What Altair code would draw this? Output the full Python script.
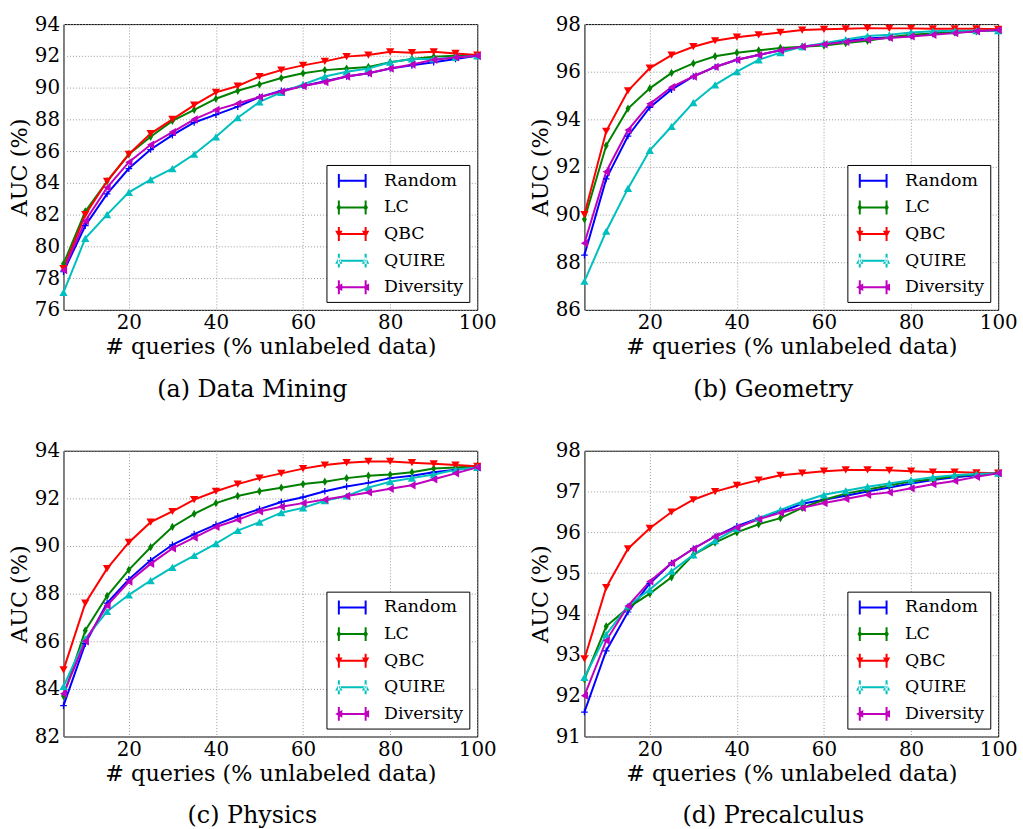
import altair as alt
import pandas as pd

methods = ["Random", "LC", "QBC", "QUIRE", "Diversity"]
queries = [5, 10, 15, 20, 25, 30, 35, 40, 45, 50, 55, 60, 65, 70, 75, 80, 85, 90, 95, 100]

data_mining = {
    "Random":    [78.4, 81.3, 83.3, 84.9, 86.1, 87.0, 87.8, 88.3, 88.8, 89.4, 89.8, 90.1, 90.4, 90.7, 90.9, 91.2, 91.4, 91.6, 91.8, 92.0],
    "LC":        [78.9, 82.2, 84.1, 85.8, 86.9, 87.9, 88.6, 89.3, 89.8, 90.2, 90.6, 90.9, 91.1, 91.2, 91.3, 91.6, 91.8, 91.95, 92.0, 92.0],
    "QBC":       [78.6, 82.0, 84.1, 85.8, 87.1, 88.0, 88.9, 89.7, 90.1, 90.7, 91.1, 91.4, 91.65, 91.95, 92.05, 92.25, 92.2, 92.25, 92.15, 92.05],
    "QUIRE":     [77.1, 80.5, 82.0, 83.4, 84.2, 84.9, 85.8, 86.9, 88.1, 89.1, 89.7, 90.2, 90.7, 91.0, 91.2, 91.6, 91.8, 91.8, 91.9, 92.0],
    "Diversity": [78.5, 81.6, 83.7, 85.3, 86.4, 87.2, 88.0, 88.6, 89.0, 89.4, 89.75, 90.1, 90.35, 90.7, 90.9, 91.2, 91.45, 91.75, 91.9, 92.0],
}
geometry = {
    "Random":    [88.3, 91.5, 93.3, 94.5, 95.25, 95.8, 96.2, 96.5, 96.7, 96.9, 97.05, 97.15, 97.3, 97.4, 97.45, 97.5, 97.6, 97.65, 97.7, 97.75],
    "LC":        [89.8, 92.9, 94.45, 95.3, 95.95, 96.35, 96.65, 96.8, 96.9, 97.0, 97.05, 97.1, 97.2, 97.3, 97.45, 97.55, 97.6, 97.65, 97.7, 97.75],
    "QBC":       [90.0, 93.5, 95.2, 96.15, 96.7, 97.05, 97.3, 97.45, 97.55, 97.65, 97.75, 97.78, 97.8, 97.83, 97.82, 97.82, 97.8, 97.8, 97.8, 97.78],
    "QUIRE":     [87.2, 89.3, 91.1, 92.7, 93.7, 94.7, 95.45, 96.0, 96.5, 96.8, 97.05, 97.2, 97.35, 97.5, 97.55, 97.65, 97.7, 97.72, 97.72, 97.72],
    "Diversity": [88.8, 91.8, 93.55, 94.65, 95.35, 95.8, 96.2, 96.5, 96.7, 96.9, 97.05, 97.15, 97.25, 97.35, 97.42, 97.48, 97.55, 97.62, 97.7, 97.75],
}
physics = {
    "Random":    [83.3, 85.9, 87.6, 88.6, 89.4, 90.05, 90.5, 90.9, 91.25, 91.55, 91.85, 92.05, 92.3, 92.5, 92.65, 92.85, 92.95, 93.1, 93.2, 93.3],
    "LC":        [83.7, 86.45, 87.9, 89.0, 89.95, 90.8, 91.35, 91.8, 92.1, 92.3, 92.45, 92.6, 92.7, 92.85, 92.95, 93.0, 93.1, 93.25, 93.3, 93.35],
    "QBC":       [84.8, 87.6, 89.05, 90.15, 91.0, 91.45, 91.95, 92.3, 92.6, 92.85, 93.05, 93.25, 93.4, 93.5, 93.55, 93.55, 93.5, 93.45, 93.4, 93.35],
    "QUIRE":     [84.1, 86.1, 87.25, 87.95, 88.55, 89.1, 89.6, 90.1, 90.65, 91.0, 91.4, 91.6, 91.9, 92.1, 92.45, 92.7, 92.85, 93.0, 93.2, 93.3],
    "Diversity": [83.8, 86.0, 87.5, 88.5, 89.25, 89.9, 90.35, 90.8, 91.1, 91.45, 91.65, 91.8, 91.95, 92.1, 92.25, 92.4, 92.55, 92.8, 93.05, 93.3],
}
precalculus = {
    "Random":    [91.6, 93.1, 94.05, 94.75, 95.25, 95.6, 95.9, 96.15, 96.35, 96.5, 96.7, 96.8, 96.9, 97.0, 97.1, 97.2, 97.28, 97.35, 97.4, 97.45],
    "LC":        [92.4, 93.7, 94.15, 94.5, 94.9, 95.45, 95.75, 96.0, 96.2, 96.35, 96.6, 96.8, 96.95, 97.05, 97.15, 97.25, 97.3, 97.38, 97.42, 97.45],
    "QBC":       [92.9, 94.65, 95.6, 96.1, 96.5, 96.8, 97.0, 97.15, 97.28, 97.4, 97.45, 97.5, 97.53, 97.53, 97.52, 97.5, 97.48, 97.48, 97.46, 97.45],
    "QUIRE":     [92.45, 93.5, 94.2, 94.6, 95.05, 95.45, 95.8, 96.1, 96.35, 96.55, 96.75, 96.92, 97.02, 97.12, 97.2, 97.28, 97.35, 97.4, 97.43, 97.45],
    "Diversity": [92.0, 93.35, 94.2, 94.8, 95.25, 95.6, 95.9, 96.12, 96.32, 96.48, 96.6, 96.72, 96.82, 96.92, 96.98, 97.08, 97.18, 97.26, 97.36, 97.45],
}

x_ticks = [20, 40, 60, 80, 100]

# styles
COLORS = {"Random": "#0000ff", "LC": "#008000", "QBC": "#ff0000", "QUIRE": "#00bfbf", "Diversity": "#bf00bf"}
MARKERS = {
    "Random": "M-0.8,-0.15H0.8V0.15H-0.8Z M-0.15,-0.8H0.15V0.8H-0.15Z",
    "LC": "M0,-1L0.6,0L0,1L-0.6,0Z",
    "QBC": "triangle-down",
    "QUIRE": "triangle-up",
    "Diversity": "triangle-left",
}
# legend glyphs: errorbar line with caps plus end markers (unit = half symbol side)
_bar = "M-0.35,-0.1H2.35V0.1H-0.35Z M-0.45,-0.7H-0.25V0.7H-0.45Z M2.25,-0.7H2.45V0.7H2.25Z"
GLYPHS = {
    "Random": _bar,
    "LC": _bar + " M-0.35,-0.42L-0.12,0L-0.35,0.42L-0.58,0Z M2.35,-0.42L2.58,0L2.35,0.42L2.12,0Z",
    "QBC": _bar + " M-0.72,-0.32H0.02L-0.35,0.36Z M1.98,-0.32H2.72L2.35,0.36Z",
    "QUIRE": _bar + " M-0.72,0.32H0.02L-0.35,-0.36Z M1.98,0.32H2.72L2.35,-0.36Z",
    "Diversity": _bar + " M-0.72,0L0.0,-0.38V0.38Z M1.98,0L2.7,-0.38V0.38Z",
}

FONT = "DejaVu Serif"


def panel(values, ydomain, yticks, caption):
    rows = []
    for m in methods:
        for q, v in zip(queries, values[m]):
            rows.append({"method": m, "queries": q, "auc": v, "col": COLORS[m], "mk": MARKERS[m]})
    df = pd.DataFrame(rows)
    base = alt.Chart(df).encode(
        x=alt.X("queries:Q", scale=alt.Scale(domain=[5, 100], nice=False, zero=False),
                axis=alt.Axis(values=x_ticks, title="# queries (% unlabeled data)", labelFlush=False)),
        y=alt.Y("auc:Q", scale=alt.Scale(domain=ydomain, nice=False, zero=False),
                axis=alt.Axis(values=yticks, title="AUC (%)", labelFlush=False)),
    )
    lines = base.mark_line(strokeWidth=2).encode(
        color=alt.Color("col:N", scale=None), detail="method:N")
    pts = base.mark_point(filled=True, size=70, opacity=1).encode(
        color=alt.Color("col:N", scale=None), shape=alt.Shape("mk:N", scale=None))
    leg_kwargs = dict(title=None, orient="bottom-right", offset=8, padding=6,
                      fillColor="white", strokeColor="black", cornerRadius=0,
                      symbolSize=400, symbolStrokeWidth=0, symbolOpacity=1,
                      labelFont=FONT, labelFontSize=17.5, labelColor="black",
                      labelOffset=32, rowPadding=7.8, labelLimit=0)
    leg = base.mark_point(filled=True, size=0).encode(
        color=alt.Color("method:N", scale=alt.Scale(domain=methods, range=[COLORS[m] for m in methods]),
                        legend=alt.Legend(**leg_kwargs)),
        shape=alt.Shape("method:N", scale=alt.Scale(domain=methods, range=[GLYPHS[m] for m in methods]),
                        legend=alt.Legend(**leg_kwargs)),
    )
    return alt.layer(lines, pts, leg).properties(
        width=417, height=288,
        title=alt.TitleParams(caption, orient="bottom", anchor="middle", frame="bounds", font=FONT,
                              fontSize=24, fontWeight="normal", color="black", offset=20),
    ).resolve_scale(color="independent", shape="independent")


a = panel(data_mining, [76, 94], list(range(76, 95, 2)), "(a) Data Mining")
b = panel(geometry, [86, 98], list(range(86, 99, 2)), "(b) Geometry")
c = panel(physics, [82, 94], list(range(82, 95, 2)), "(c) Physics")
d = panel(precalculus, [91, 98], list(range(91, 99, 1)), "(d) Precalculus")

res = dict(x="independent", y="independent", color="independent", shape="independent")
top = alt.hconcat(a, b, spacing=32).resolve_scale(**res)
bottom = alt.hconcat(c, d, spacing=32).resolve_scale(**res)
chart = alt.vconcat(top, bottom, spacing=38).resolve_scale(**res).properties(
    padding={"left": 8, "top": 10, "right": 5, "bottom": 5}, background="white"
).configure_view(stroke="black", strokeWidth=1).configure_axis(
    labelFont=FONT, labelFontSize=20, labelColor="black",
    titleFont=FONT, titleFontSize=22.5, titleFontWeight="normal", titleColor="black",
    grid=True, gridColor="#999999", gridDash=[1, 2], gridWidth=1,
    domain=False, tickSize=0, labelPadding=4,
).configure_axisX(labelPadding=3, titlePadding=3).configure_axisY(titlePadding=3)

chart.save("out.html", embed_options={"renderer": "svg", "actions": False})
